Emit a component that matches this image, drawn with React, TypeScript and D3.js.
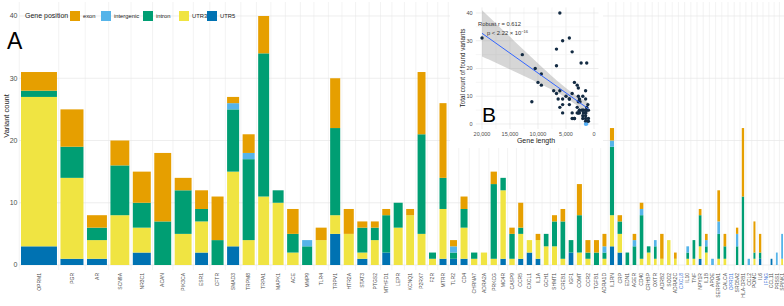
import React from 'react';
import * as d3 from 'd3';

const genes = ['OPRM1','PGR','AR','SCN9A','NR3C1','ACAN','PIK3CA','ESR1','CFTR','SMAD3','TRPM8','TRPA1','MAPK1','ACE','MMP9','TLR4','TRPV1','HTR2A','STAT3','PTGS2','MTHFD1','LEPR','KCNQ1','P2RX7','F2R','MTRR','TLR2','CD4','CHRNA7','ADRA2A','PRKCG','MC4R','CASP9','CCR5','CXCL1','IL1A','GCH1','SHMT1','CREB1','IGF1','COMT','CCR2','TGFB1','ADRA1D','IL1RN','CRP','EDN1','AGER','CD40','CRHBP','OXTR','ADRB2','SOD2','ADRA2C','CXCL8','IL10','TNF','NPY1R','IL1B','APOE','SERPINA1','CALCA','OPRD1','SRD5A2','HLA-DRB1','CCL2','POMC','IL6','IFNG','CCL11','PRSS1','SPINK1'];
const geneLength = [20000,12800,11100,10500,10000,9400,9400,7200,6700,6700,6700,6100,6100,6400,5600,6100,5600,5600,5600,4400,4400,5000,4400,4400,3900,3900,3900,3900,3500,3500,3500,3000,3000,2800,3000,2600,2600,2800,2600,2600,2800,2800,2800,2200,2300,2500,2000,2000,2000,2000,1500,1900,1900,1500,1500,1500,1500,1500,1500,1500,1500,1500,1500,1300,1300,1300,1100,1300,1300,1000,1000,1000];
const utr5 =       [3,1,1,0,2,0,0,2,0,3,0,0,0,0,0,0,5,0,1,0,2,0,0,0,0,1,1,1,0,0,0,1,0,1,2,1,0,0,0,2,0,0,0,0,3,2,0,0,0,0,0,0,0,0,0,0,0,1,0,0,0,0,0,0,0,0,0,1,0,1,0,0];
const utr3 =       [24,13,3,8,4,0,5,5,0,12,4,11,10,2,0,4,3,5,1,4,0,6,8,5,1,8,0,5,1,2,1,11,1,4,2,3,3,3,1,0,2,1,0,1,5,3,0,0,1,2,1,1,4,1,0,1,1,2,2,0,1,1,0,0,0,0,1,0,0,0,0,1];
const intron =     [1,5,2,8,4,7,7,2,4,10,13,23,2,3,3,0,14,0,4,2,6,4,0,16,1,5,1,3,1,0,12,2,4,1,0,0,2,4,6,2,6,1,2,1,11,2,2,3,7,1,2,0,0,0,0,1,3,5,1,0,4,2,0,3,11,0,1,1,0,0,0,0];
const intergenic = [0,0,0,0,0,0,0,0,0,1,1,0,0,0,1,0,0,0,0,0,0,0,0,0,0,0,1,0,0,0,0,0,0,0,0,0,0,0,0,0,0,0,0,1,1,0,0,1,1,0,1,0,0,0,0,1,0,0,1,1,2,0,0,2,0,1,0,0,0,0,2,4];
const exon =       [3,6,2,4,5,11,2,3,7,1,3,6,0,4,0,2,8,4,1,1,1,0,1,10,0,12,1,2,0,0,2,0,1,4,0,1,0,1,2,0,5,2,2,2,2,1,0,1,1,0,0,4,0,1,0,0,0,1,1,0,5,2,0,1,11,0,5,3,0,0,0,0];

const positionKeys = ['UTR5','UTR3','intron','intergenic','exon'];
const legendKeys = ['exon','intergenic','intron','UTR3','UTR5'];
const positionColors = ['#0072B2','#F0E442','#009E73','#56B4E9','#E69F00'];
const yTicks = [0,10,20,30,40];
const insetXTicks = [20000,15000,10000,5000,0];
const insetYTicks = [0,10,20,30,40];
const fitIntercept = 4.03;
const fitSlope = 0.001433;

const FONT = "'Liberation Sans', Arial, Helvetica, sans-serif";

export default function App() {
  const W = 784, H = 306;
  const x0 = 21, x1 = 783, gap = 3.5;
  const n = genes.length;
  const y = d3.scaleLinear().domain([0, 40]).range([265, 16]);
  const color = d3.scaleOrdinal<string, string>().domain(positionKeys).range(positionColors);

  const sumLen = d3.sum(geneLength);
  const lenScale = d3.scaleLinear().domain([0, sumLen]).range([0, (x1 - x0) - (n - 1) * gap]);
  const cum = d3.cumsum([0, ...geneLength.slice(0, -1)]);
  const xs = genes.map((_, i) => x0 + lenScale(cum[i]) + i * gap);
  const ws = geneLength.map(l => lenScale(l));

  const rows = genes.map((g, i) => ({ gene: g, UTR5: utr5[i], UTR3: utr3[i], intron: intron[i], intergenic: intergenic[i], exon: exon[i] }));
  const series = d3.stack<any>().keys(positionKeys)(rows);
  const totals = rows.map(r => r.UTR5 + r.UTR3 + r.intron + r.intergenic + r.exon);

  const gridX = [...xs.map(v => v - gap / 2), xs[n - 1] + ws[n - 1] + gap / 2];

  // inset
  const inX = d3.scaleLinear().domain([20000, 0]).range([482, 594]);
  const inY = d3.scaleLinear().domain([0, 40]).range([124, 13]);
  const pL = inX(21100), pR = inX(-800), pT = inY(42), pB = inY(-1.8);
  const minorX = d3.range(0, 22500, 2500);
  const minorY = d3.range(0, 45, 5);
  const fit = (l: number) => fitIntercept + fitSlope * l;
  const xbar = d3.mean(geneLength)!;
  const sxx = d3.sum(geneLength, l => (l - xbar) ** 2);
  const s = Math.sqrt(d3.sum(geneLength, (l, i) => (totals[i] - fit(l)) ** 2) / (n - 2));
  const lmin = d3.min(geneLength)!, lmax = d3.max(geneLength)!;
  const bandX = d3.range(0, 51).map(k => lmin + (lmax - lmin) * k / 50);
  const half = (l: number) => 1.99 * s * Math.sqrt(1 / n + (l - xbar) ** 2 / sxx);
  const band = d3.area<number>().x(l => inX(l)).y0(l => inY(fit(l) - half(l))).y1(l => inY(fit(l) + half(l)))(bandX);
  const fitLine = d3.line<number>().x(l => inX(l)).y(l => inY(fit(l)))([lmin, lmax]);

  const legendX = [70, 101, 143, 179, 207];

  return (
    <svg width={W} height={H} style={{ position: 'fixed', left: 0, top: 0, background: '#fff' }} fontFamily={FONT}>
      <rect x={0} y={0} width={W} height={H} fill="#fff" />
      {gridX.map((gx, i) => (
        <line key={'gx' + i} x1={gx} x2={gx} y1={2} y2={270} stroke="#ebebeb" strokeWidth={0.6} />
      ))}
      {yTicks.map(t => (
        <line key={'gy' + t} x1={19} x2={784} y1={y(t)} y2={y(t)} stroke="#e6e6e6" strokeWidth={0.7} />
      ))}
      {yTicks.map(t => (
        <text key={'yt' + t} x={17.5} y={y(t)} dy="0.35em" textAnchor="end" fontSize={7} fill="#4d4d4d">{t}</text>
      ))}
      <text transform={`translate(8.5,116) rotate(-90)`} textAnchor="middle" fontSize={7.5} fill="#1a1a1a">Variant count</text>
      {series.map((ser) => (
        <g key={ser.key} fill={color(ser.key)}>
          {ser.map((d, i) => d[1] - d[0] > 0 ? (
            <rect key={i} x={xs[i]} width={ws[i]} y={y(d[1])} height={y(d[0]) - y(d[1])} />
          ) : null)}
        </g>
      ))}
      {genes.map((g, i) => (
        <text key={'xl' + g} transform={`translate(${xs[i] + ws[i] / 2},273) rotate(-90)`} dy="0.35em" textAnchor="end" fontSize={5} fill={totals[i] === 0 ? '#3b73d6' : '#4d4d4d'}>{g}</text>
      ))}
      <text x={25} y={16} dy="0.35em" fontSize={7} fill="#1a1a1a">Gene position</text>
      {legendKeys.map((k, i) => (
        <g key={'lg' + k}>
          <rect x={legendX[i]} y={11} width={10} height={10} fill={color(k)} />
          <text x={legendX[i] + 13} y={16} dy="0.35em" fontSize={5.8} fill="#1a1a1a">{k}</text>
        </g>
      ))}
      <text x={7} y={49} fontSize={23} fill="#000">A</text>

      <rect x={450} y={0} width={153} height={148} fill="#fff" />
      {minorX.map(v => (
        <line key={'ix' + v} x1={inX(v)} x2={inX(v)} y1={pT} y2={pB} stroke={v % 5000 === 0 ? '#e3e3e3' : '#f0f0f0'} strokeWidth={0.6} />
      ))}
      {minorY.map(v => (
        <line key={'iy' + v} x1={pL} x2={pR} y1={inY(v)} y2={inY(v)} stroke={v % 10 === 0 ? '#e3e3e3' : '#f0f0f0'} strokeWidth={0.6} />
      ))}
      <path d={band!} fill="#999999" opacity={0.4} />
      {geneLength.map((l, i) => (
        <circle key={'pt' + i} cx={inX(l)} cy={inY(totals[i])} r={1.7} fill={totals[i] === 0 ? '#56B1F7' : '#132B43'} />
      ))}
      <path d={fitLine!} stroke="#3366FF" strokeWidth={1} fill="none" />
      {insetYTicks.map(t => (
        <text key={'iyt' + t} x={472.5} y={inY(t)} dy="0.35em" textAnchor="end" fontSize={5.5} fill="#4d4d4d">{t}</text>
      ))}
      {insetXTicks.map(t => (
        <text key={'ixt' + t} x={inX(t)} y={134} dy="0.35em" textAnchor="middle" fontSize={5.5} fill="#4d4d4d">{d3.format(',')(t)}</text>
      ))}
      <text x={536} y={141} dy="0.35em" textAnchor="middle" fontSize={7} fill="#1a1a1a">Gene length</text>
      <text transform={`translate(465,68) rotate(-90)`} textAnchor="middle" fontSize={6.3} fill="#1a1a1a">Total count of found variants</text>
      <text x={478} y={25.5} fontSize={5.8} fill="#333">Robust r = 0.612</text>
      <text x={487} y={35} fontSize={5.8} fill="#333">p &lt; 2.22 × 10<tspan dy={-2.5} fontSize={4}>−16</tspan></text>
      <text x={482} y={122} fontSize={21} fill="#000">B</text>
    </svg>
  );
}
